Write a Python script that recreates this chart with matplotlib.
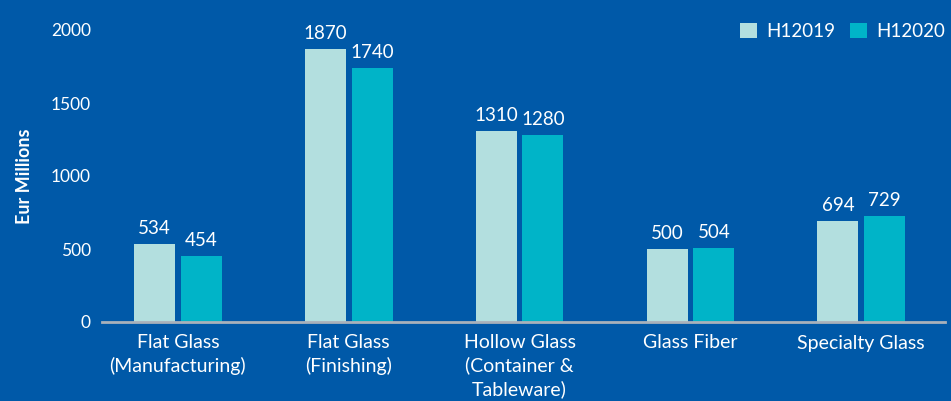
import numpy as np
import matplotlib.pyplot as plt

categories = ['Flat Glass\n(Manufacturing)', 'Flat Glass\n(Finishing)',
              'Hollow Glass\n(Container &\nTableware)', 'Glass Fiber', 'Specialty Glass']
h1_2019 = [534, 1870, 1310, 500, 694]
h1_2020 = [454, 1740, 1280, 504, 729]
series_names = ['H12019', 'H12020']
yticks = [0, 500, 1000, 1500, 2000]

bg = '#0059A8'
c2019 = '#B3DFDF'
c2020 = '#00B4C8'

plt.rcParams['font.family'] = ['Lato', 'DejaVu Sans']

fig = plt.figure(figsize=(9.51, 4.01), dpi=100, facecolor=bg)
ax = fig.add_axes([102/951, 79/401, 843/951, 292/401])
ax.set_facecolor(bg)

x = np.arange(len(categories))
w = 0.24
off = 0.137
b1 = ax.bar(x - off, h1_2019, w, color=c2019, label=series_names[0], zorder=2)
b2 = ax.bar(x + off, h1_2020, w, color=c2020, label=series_names[1], zorder=2)

for bars in (b1, b2):
    for rect in bars:
        ax.annotate(str(int(rect.get_height())),
                    (rect.get_x() + rect.get_width()/2, rect.get_height()),
                    xytext=(0, 5), textcoords='offset points',
                    ha='center', va='bottom', color='white', fontsize=13.5)

ax.set_xlim(-0.444, 4.49)
ax.set_ylim(0, 2000)
ax.set_yticks(yticks)
ax.set_yticklabels([str(v) for v in yticks], color='white', fontsize=12.5)
ax.set_xticks(x)
ax.set_xticklabels(categories, color='white', fontsize=14, linespacing=1.35)
ax.tick_params(axis='both', length=0)
ax.tick_params(axis='y', pad=8)
ax.tick_params(axis='x', pad=9)

for s in ['top', 'right', 'left']:
    ax.spines[s].set_visible(False)
ax.spines['bottom'].set_color('#A9B1BA')
ax.spines['bottom'].set_linewidth(2)

ax.set_ylabel('Eur Millions', color='white', fontsize=13, fontweight='bold', labelpad=13)

leg = ax.legend(loc='upper right', bbox_to_anchor=(1.0, 1.025), ncol=2, frameon=False,
                borderaxespad=0, borderpad=0,
                handlelength=0.9, handleheight=0.9, handletextpad=0.5, columnspacing=0.8,
                fontsize=13.5)
for t in leg.get_texts():
    t.set_color('white')

fig.savefig('out.png', dpi=100, facecolor=bg)
